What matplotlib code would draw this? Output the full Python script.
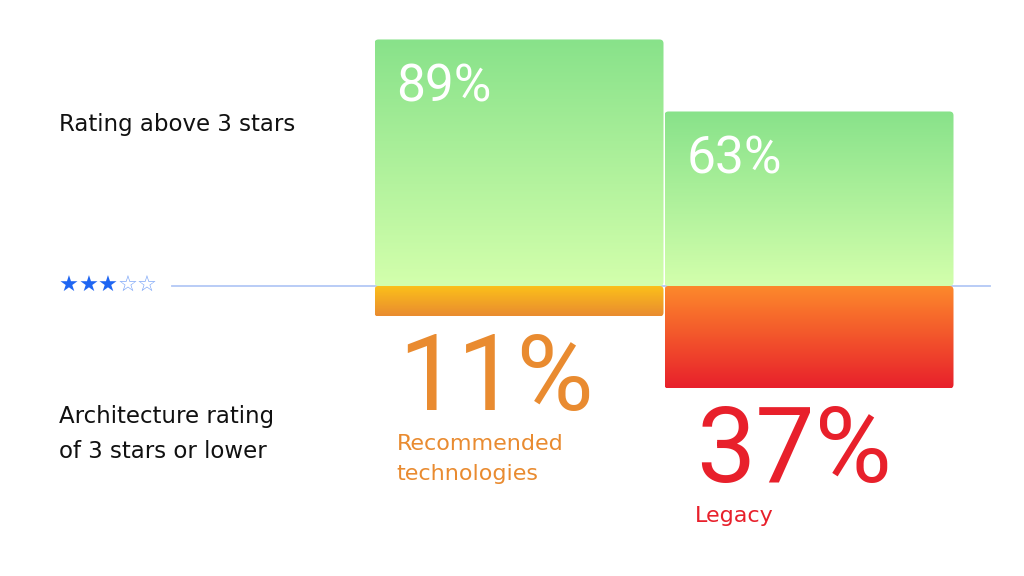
import matplotlib
matplotlib.use("Agg")
import matplotlib.pyplot as plt
import numpy as np
from matplotlib.colors import LinearSegmentedColormap
from matplotlib.patches import FancyBboxPatch

# ── data ─────────────────────────────────────────────────────────────────────
groups = ["Recommended\ntechnologies", "Legacy"]
above_3 = [89, 63]      # % rated above 3 stars
at_or_below_3 = [11, 37]  # % rated 3 stars or lower
row_labels = ["Rating above 3 stars", "Architecture rating\nof 3 stars or lower"]

GREEN = ("#88e28a", "#d3ffac")
LOW_GRADS = [("#fcc219", "#e98b30"), ("#fd8a2c", "#e8202b")]
LOW_TEXT = ["#e98b30", "#e8202b"]
STAR_BLUE = "#1f66f2"
LINE_BLUE = "#b3c8f6"

LABEL_FONT = ["DejaVu Sans"]
NUM_FONT = ["Roboto", "DejaVu Sans"]

W, H, DPI = 1024, 576, 100
PX_PER_PCT = 2.77      # vertical scale
PX_PER_BAR = 290       # bar width in px
BASE_PX = 286          # baseline, px from top
BAR0_CENTER_PX = 519
LOW_TEXT_DX = [24, 32]  # px indent of the text under each bar

fig = plt.figure(figsize=(W / DPI, H / DPI), dpi=DPI)
ax = fig.add_axes([0, 0, 1, 1])
ax.set_axis_off()

xlim = (-BAR0_CENTER_PX / PX_PER_BAR, (W - BAR0_CENTER_PX) / PX_PER_BAR)
ylim = (-(H - BASE_PX) / PX_PER_PCT, BASE_PX / PX_PER_PCT)
ux = 1 / PX_PER_BAR     # one px in x data units
uy = 1 / PX_PER_PCT     # one px in y data units


def grad_bar(x0, y0, x1, y1, top, bottom):
    cmap = LinearSegmentedColormap.from_list("g", [bottom, top])
    patch = FancyBboxPatch((x0, y0), x1 - x0, y1 - y0,
                           boxstyle=f"round,pad=0,rounding_size={4 * ux}",
                           mutation_aspect=uy / ux, fc="none", ec="none")
    ax.add_patch(patch)
    grad = np.linspace(0, 1, 256).reshape(-1, 1)
    im = ax.imshow(grad, extent=[x0, x1, y0, y1], origin="lower",
                   aspect="auto", cmap=cmap, interpolation="bicubic", zorder=2)
    im.set_clip_path(patch)


# baseline
ax.plot([(172 - BAR0_CENTER_PX) * ux, (990 - BAR0_CENTER_PX) * ux], [0, 0],
        color=LINE_BLUE, lw=1.3, zorder=1)

for i, (hi, lo) in enumerate(zip(above_3, at_or_below_3)):
    x0 = i - 0.5 + 0.5 * ux
    x1 = i + 0.5 - 0.5 * ux
    grad_bar(x0, 0, x1, hi, *GREEN)
    grad_bar(x0, -lo, x1, 0, *LOW_GRADS[i])

    # value inside the top bar
    ax.text(x0 + 22 * ux, hi - 62 * uy, f"{hi}%", color="white",
            fontsize=37, family=NUM_FONT, va="baseline", ha="left", zorder=3)
    # value under the bottom bar
    dx = LOW_TEXT_DX[i] * ux
    ax.text(x0 + dx, -lo - 94 * uy, f"{lo}%", color=LOW_TEXT[i],
            fontsize=76, family=NUM_FONT, va="baseline", ha="left", zorder=3)
    # group name
    ax.text(x0 + dx - 2 * ux, -lo - 94 * uy - 24 * uy, groups[i],
            color=LOW_TEXT[i], fontsize=16, family=LABEL_FONT, va="top",
            ha="left", linespacing=1.6, zorder=3)

ax.set_xlim(*xlim)
ax.set_ylim(*ylim)

# row labels on the left
fig.text(59 / W, 1 - 124 / H, row_labels[0], fontsize=16.5, family=LABEL_FONT,
         color="#111111", va="center", ha="left")
fig.text(59 / W, 1 - 434 / H, row_labels[1], fontsize=16.5, family=LABEL_FONT,
         color="#111111", va="center", ha="left", linespacing=1.7)

# star threshold marker
stars = "★★★☆☆"
for k, s in enumerate(stars):
    fig.text((69 + k * 19.5) / W, 1 - 286 / H, s, fontsize=16,
             family=["DejaVu Sans"], color=STAR_BLUE,
             alpha=1.0 if s == "★" else 0.6, va="center", ha="center")

fig.savefig("out.png", dpi=DPI, facecolor="white")
